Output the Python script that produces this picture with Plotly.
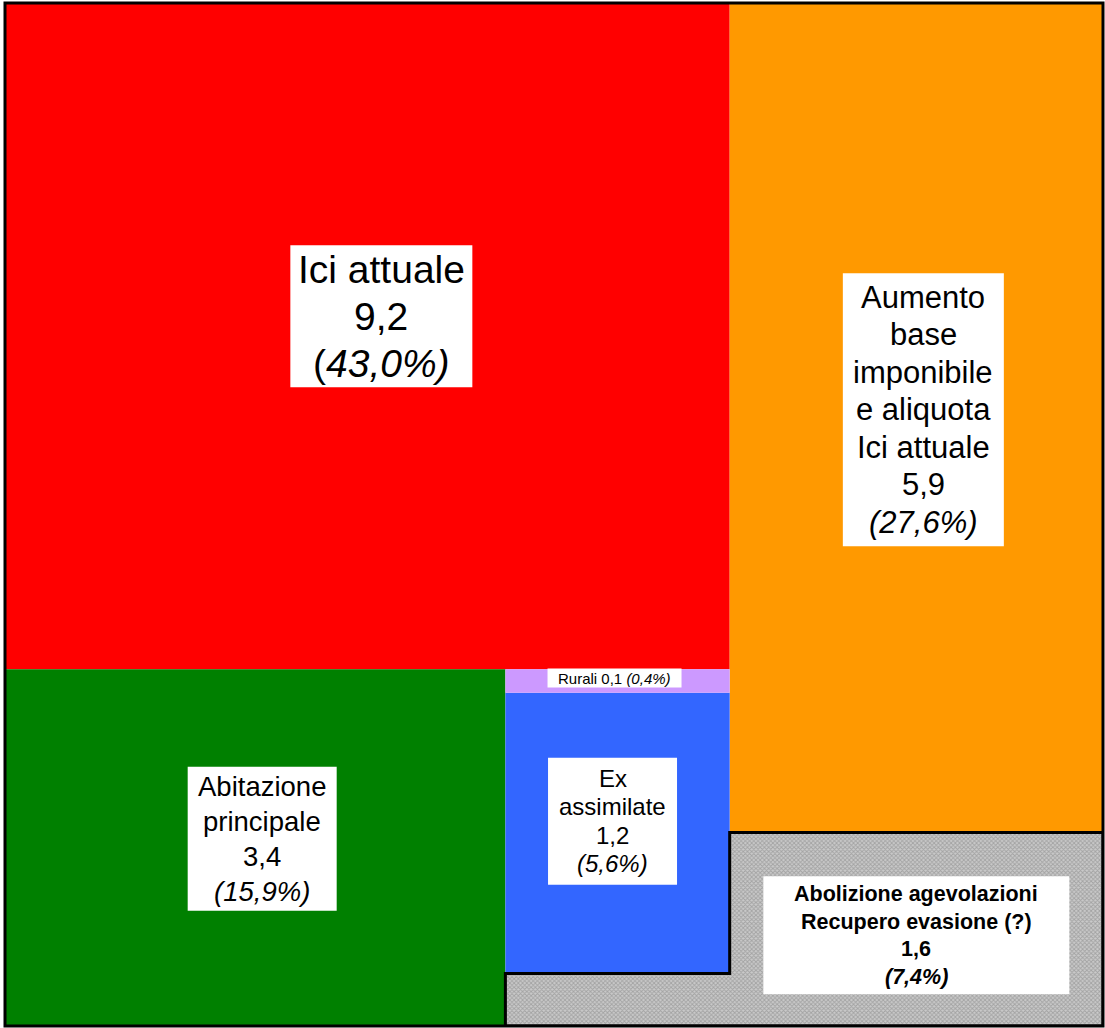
import plotly.graph_objects as go

# ---- data ----
names = ["Ici attuale",
         "Aumento base imponibile e aliquota Ici attuale",
         "Abitazione principale",
         "Ex assimilate",
         "Rurali",
         "Abolizione agevolazioni Recupero evasione (?)"]
values = [9.2, 5.9, 3.4, 1.2, 0.1, 1.6]          # miliardi
shares = [43.0, 27.6, 15.9, 5.6, 0.4, 7.4]       # %
value_txt = ["9,2", "5,9", "3,4", "1,2", "0,1", "1,6"]
share_txt = ["43,0%", "27,6%", "15,9%", "5,6%", "0,4%", "7,4%"]
colors = ["#FF0000", "#FF9900", "#008000", "#3366FF", "#CC99FF", "#FFFFFF"]

# ---- layout of the area diagram (areas proportional to values) ----
total = sum(values)
LEFT_FRAC = 0.66                       # width share of left column
a = [v / total for v in values]
wL = LEFT_FRAC
hR = a[0] / wL                         # Ici attuale height
hO = a[1] / (1 - wL)                   # orange height
yLow = 1 - hR
wG = a[2] / yLow                       # green width
wM = wL - wG                           # middle column width
hP = a[4] / wM
hB = a[3] / wM
yP0 = yLow - hP
yB0 = yP0 - hB

rects = {
    0: (0, wL, yLow, 1),
    1: (wL, 1, 1 - hO, 1),
    2: (0, wG, 0, yLow),
    3: (wG, wL, yB0, yP0),
    4: (wG, wL, yP0, yLow),
    5: (wL, 1, 0, 1 - hO),   # main (right) part of the grey region, for its label
}

fig = go.Figure()
for i in range(5):
    x0, x1, y0, y1 = rects[i]
    fig.add_trace(go.Scatter(
        x=[x0, x1, x1, x0, x0], y=[y0, y0, y1, y1, y0],
        mode="lines", fill="toself", fillcolor=colors[i],
        line=dict(width=0, color=colors[i]), hoverinfo="skip", showlegend=False))

# grey L-shaped region (remaining area)
gx = [wG, 1, 1, wL, wL, wG, wG]
gy = [0, 0, 1 - hO, 1 - hO, yB0, yB0, 0]
fig.add_trace(go.Scatter(
    x=gx, y=gy, mode="lines", fill="toself",
    fillcolor="#b8b8b8",
    fillpattern=dict(shape="x", fgcolor="#7a7a7a", bgcolor="#cacaca", size=3, solidity=0.5),
    line=dict(width=3, color="black"), hoverinfo="skip", showlegend=False))

FONT = "Arial, Liberation Sans, sans-serif"

def center(i):
    x0, x1, y0, y1 = rects[i]
    return (x0 + x1) / 2, (y0 + y1) / 2

# label style: lines, font size, line spacing(px), box w/h (px), offset dx, dy (px, screen)
labels = [
    (0, ["Ici attuale", value_txt[0], f"(<i>{share_txt[0]})</i>"], 39, 47, 182, 142, 14, -20, False),
    (1, ["Aumento", "base", "imponibile", "e aliquota", "Ici attuale", value_txt[1],
         f"<i>({share_txt[1]})</i>"], 31, 37.5, 161, 273, 7, -8, False),
    (2, ["Abitazione", "principale", value_txt[2], f"<i>({share_txt[2]})</i>"],
     27.5, 35, 149, 144, 7, -9, False),
    (3, ["Ex", "assimilate", value_txt[3], f"<i>({share_txt[3]})</i>"],
     24, 28.5, 129, 127, -5, -12, False),
    (4, [f"Rurali {value_txt[4]} <i>({share_txt[4]})</i>"], 15, 0, 134, 19, -3, -3, False),
    (5, ["Abolizione agevolazioni", "Recupero evasione (?)", value_txt[5],
         f"<i>({share_txt[5]})</i>"], 21.5, 27.5, 306, 118, 0, 6, True),
]

for idx, lines, fs, sp, bw, bh, dx, dy, bold in labels:
    cx, cy = center(idx)
    fig.add_shape(type="rect", xref="x", yref="y",
                  xsizemode="pixel", ysizemode="pixel",
                  xanchor=cx, yanchor=cy,
                  x0=dx - bw / 2, x1=dx + bw / 2,
                  y0=-dy - bh / 2, y1=-dy + bh / 2,
                  fillcolor="white", line=dict(width=0), layer="above")
    n = len(lines)
    for k, ln in enumerate(lines):
        off = dy + (k - (n - 1) / 2) * sp
        txt = f"<b>{ln}</b>" if bold else ln
        fig.add_annotation(x=cx, y=cy, text=txt, showarrow=False,
                           xshift=dx, yshift=-off,
                           font=dict(family=FONT, size=fs, color="black"),
                           borderpad=0, align="center")

# outer frame
fig.add_shape(type="rect", xref="paper", yref="paper", x0=0, x1=1, y0=0, y1=1,
              line=dict(color="black", width=3), layer="above")

fig.update_xaxes(range=[0, 1], visible=False, fixedrange=True)
fig.update_yaxes(range=[0, 1], visible=False, fixedrange=True)
fig.update_layout(width=1105, height=1028,
                  margin=dict(l=5, r=2, t=3, b=2),
                  plot_bgcolor="white", paper_bgcolor="white",
                  showlegend=False, hovermode=False)
fig.write_html("out.html", config={"displayModeBar": False},
               post_script="document.body.style.margin='0';")
